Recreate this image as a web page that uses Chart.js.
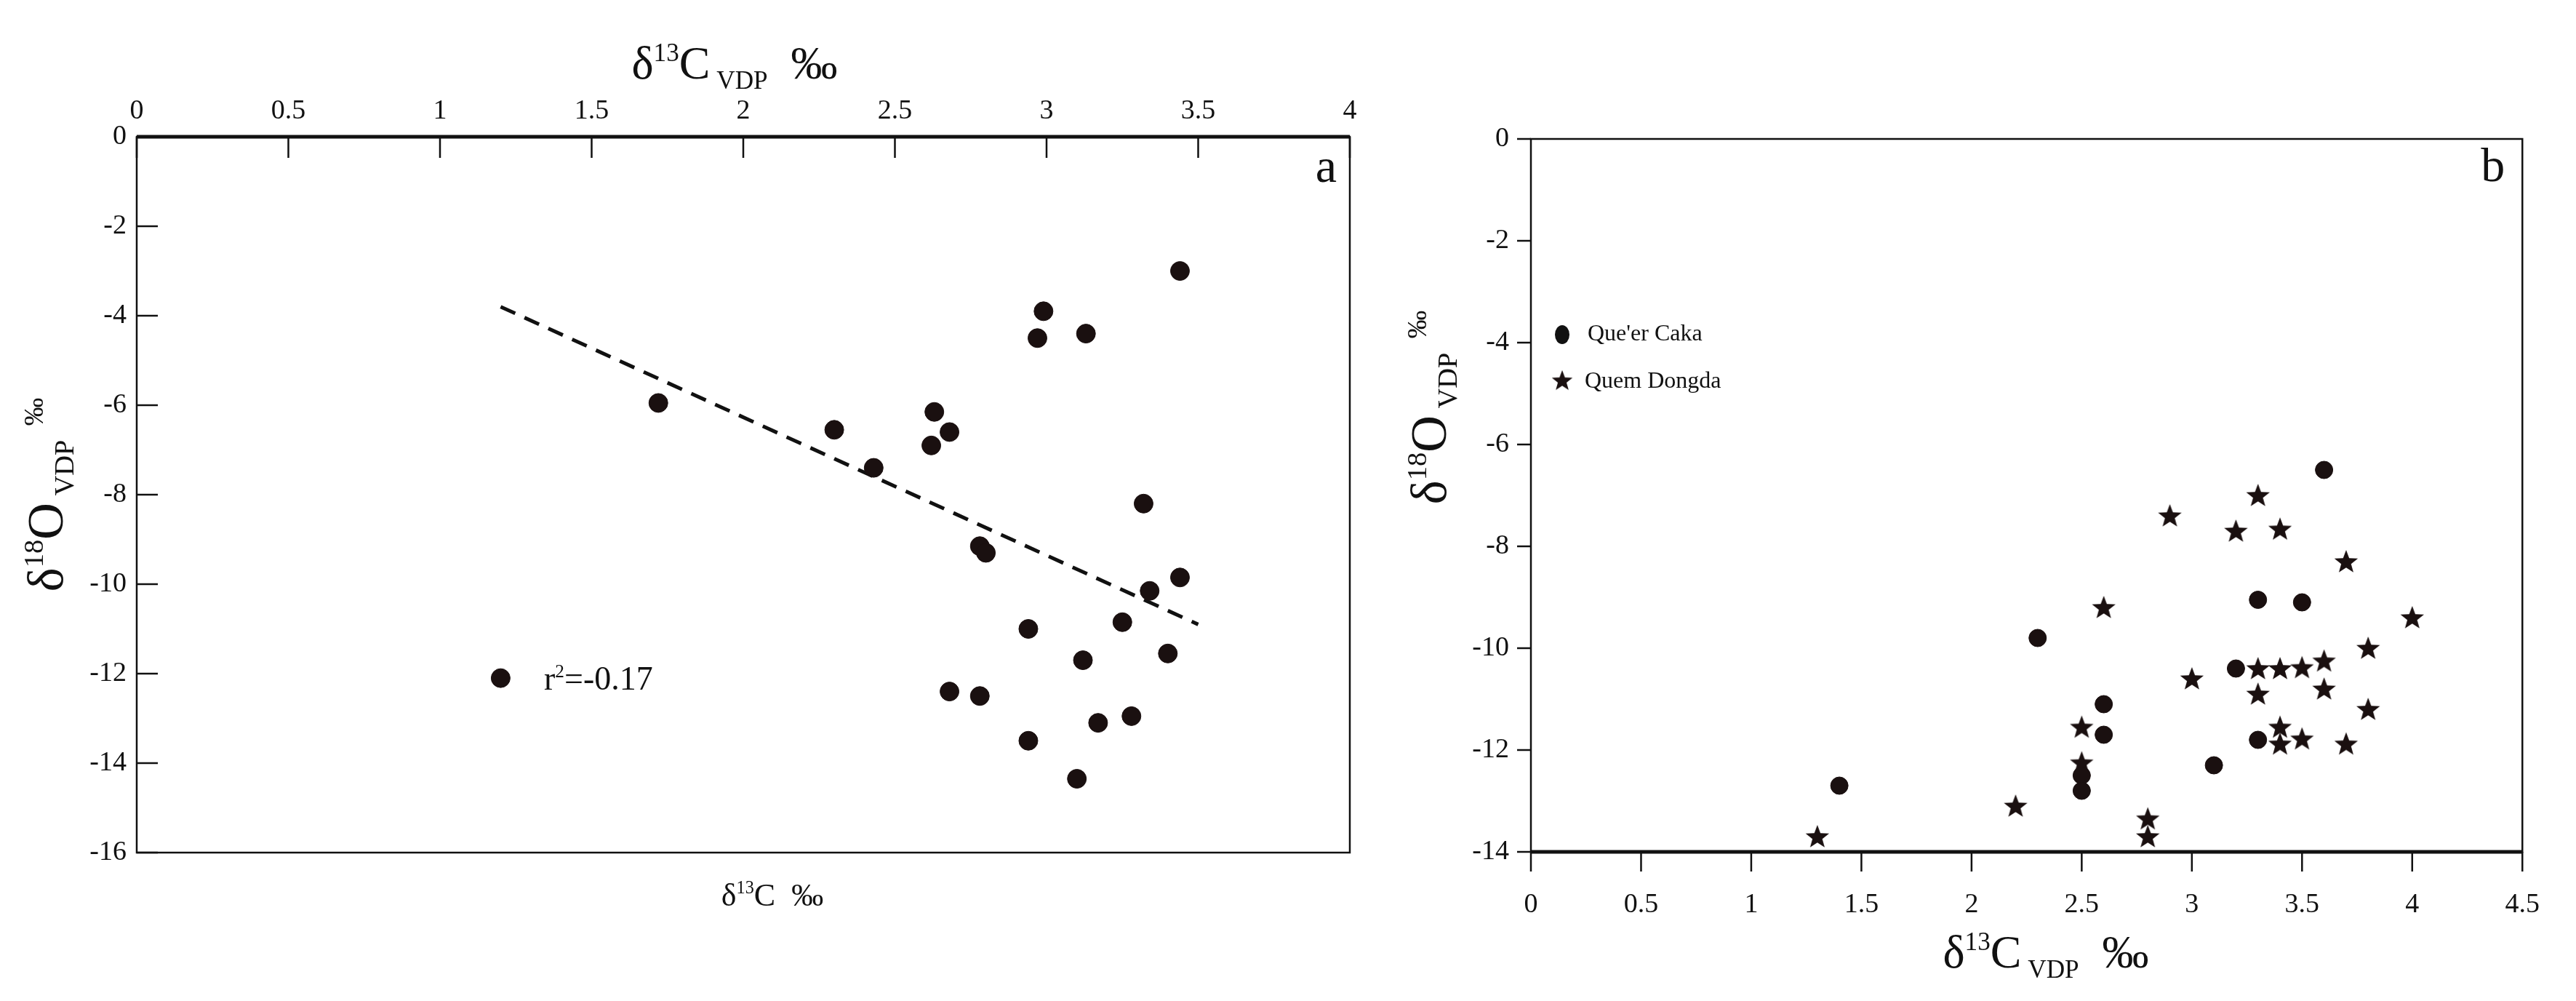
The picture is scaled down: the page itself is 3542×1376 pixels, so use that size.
<!DOCTYPE html>
<html><head><meta charset="utf-8">
<script src="https://cdn.jsdelivr.net/npm/chart.js@4/dist/chart.umd.min.js"></script>
<style>
html,body{margin:0;padding:0;background:#fff;width:3542px;height:1376px;overflow:hidden}
#wa{position:absolute;left:0;top:0;width:1900px;height:1376px}
#wb{position:absolute;left:1880px;top:0;width:1662px;height:1376px}
</style></head><body>
<div id="wa"><canvas id="ca"></canvas></div>
<div id="wb"><canvas id="cb"></canvas></div>
<script>
// Panel a data
const aX = [1.2,1.72,2.3,2.43,2.62,2.63,2.68,2.78,2.8,2.68,2.78,2.94,2.94,2.97,2.99,3.13,3.12,3.1,3.17,3.25,3.28,3.32,3.34,3.4,3.44,3.44];
const aY = [-12.1,-5.95,-6.55,-7.4,-6.9,-6.15,-6.6,-9.15,-9.3,-12.4,-12.5,-11.0,-13.5,-4.5,-3.9,-4.4,-11.7,-14.35,-13.1,-10.85,-12.95,-8.2,-10.15,-11.55,-9.85,-3.0];
const trendX = [1.2,3.5];
const trendY = [-3.8,-10.9];
const aXTicks = [0,0.5,1,1.5,2,2.5,3,3.5,4];
const aYTicks = [0,-2,-4,-6,-8,-10,-12,-14,-16];
// Panel b data
const qcX = [3.6,3.3,3.5,2.3,3.2,2.6,2.6,3.3,3.1,2.5,2.5,1.4];
const qcY = [-6.5,-9.05,-9.1,-9.8,-10.4,-11.1,-11.7,-11.8,-12.3,-12.5,-12.8,-12.7];
const qdX = [3.3,2.9,3.2,3.4,3.7,2.6,4.0,3.8,3.6,3.5,3.4,3.3,3.0,3.6,3.3,3.8,2.5,3.4,3.5,3.4,3.7,2.5,2.2,2.8,1.3,2.8];
const qdY = [-7.0,-7.4,-7.7,-7.66,-8.3,-9.2,-9.4,-10.0,-10.25,-10.38,-10.4,-10.4,-10.6,-10.8,-10.9,-11.2,-11.55,-11.55,-11.78,-11.88,-11.88,-12.25,-13.1,-13.35,-13.7,-13.7];
const bXTicks = [0,0.5,1,1.5,2,2.5,3,3.5,4,4.5];
const bYTicks = [0,-2,-4,-6,-8,-10,-12,-14];

const SERIF = "'Liberation Serif','DejaVu Serif',serif";
const pts = (xs,ys)=>xs.map((x,i)=>({x,y:ys[i]}));

function starImg(size){
  const c=document.createElement('canvas');c.width=size;c.height=size;
  const g=c.getContext('2d');g.fillStyle='#1a1010';g.beginPath();
  const cx=size/2,cy=size/2+1,R=size/2,r=R*0.42;
  for(let i=0;i<10;i++){const ang=-Math.PI/2+i*Math.PI/5;const rr=i%2?r:R;
    const px=cx+rr*Math.cos(ang),py=cy+rr*Math.sin(ang);i?g.lineTo(px,py):g.moveTo(px,py);}
  g.closePath();g.fill();return c;
}
const STAR = starImg(34);

function richText(ctx,parts,x,y,base,align){
  ctx.save();ctx.textBaseline='alphabetic';ctx.textAlign='left';
  let w=0;parts.forEach(p=>{ctx.font=(p[1]==='n'?base:base*0.55)+'px '+SERIF;w+=ctx.measureText(p[0]).width;});
  let cx = align==='center'? x-w/2 : x;
  parts.forEach(p=>{const s=p[1]==='n'?base:base*0.55;ctx.font=s+'px '+SERIF;
    const dy=p[1]==='sup'?-base*0.38:p[1]==='sub'?base*0.22:0;
    ctx.fillText(p[0],cx,y+dy);cx+=ctx.measureText(p[0]).width;});
  ctx.restore();
}

function axesPlugin(cfg){
  return {id:'ax',afterDraw(chart){
    const ctx=chart.ctx,a=chart.chartArea,xs=chart.scales.x,ys=chart.scales.y;
    ctx.save();ctx.strokeStyle='#111';
    ctx.lineWidth=2.5;ctx.strokeRect(a.left,a.top,a.right-a.left,a.bottom-a.top);
    ctx.lineWidth=5;ctx.beginPath();
    if(cfg.top){ctx.moveTo(a.left,a.top);ctx.lineTo(a.right,a.top);}
    else{ctx.moveTo(a.left,a.bottom);ctx.lineTo(a.right,a.bottom);}
    ctx.stroke();
    ctx.lineWidth=2.5;ctx.beginPath();
    xs.ticks.forEach(t=>{const px=xs.getPixelForValue(t.value);
      if(cfg.top){ctx.moveTo(px,a.top);ctx.lineTo(px,a.top+29);}
      else{ctx.moveTo(px,a.bottom);ctx.lineTo(px,a.bottom+27);}});
    ys.ticks.forEach(t=>{const py=ys.getPixelForValue(t.value);
      if(cfg.top){ctx.moveTo(a.left,py);ctx.lineTo(a.left+29,py);}
      else{ctx.moveTo(a.left,py);ctx.lineTo(a.left-19,py);}});
    ctx.stroke();ctx.fillStyle='#111';
    cfg.texts(ctx,a);
    ctx.restore();
  }};
}

function makeScales(xmin,xmax,xt,ymin,ymax,yt,top,ylw,xlh,xpad,ypad){
  return {
    x:{type:'linear',position:top?'top':'bottom',min:xmin,max:xmax,
      afterBuildTicks:s=>{s.ticks=xt.map(v=>({value:v}));},
      afterFit:s=>{s.height=xlh;},
      grid:{display:false,drawTicks:false},border:{display:false},
      ticks:{padding:xpad,color:'#111',font:{family:SERIF,size:38},maxRotation:0,callback:v=>String(v)}},
    y:{type:'linear',min:ymin,max:ymax,
      afterBuildTicks:s=>{s.ticks=yt.map(v=>({value:v}));},
      afterFit:s=>{s.width=ylw;},
      grid:{display:false,drawTicks:false},border:{display:false},
      ticks:{padding:ypad,color:'#111',font:{family:SERIF,size:38},callback:v=>String(v)}}
  };
}

new Chart(document.getElementById('ca'),{
  type:'scatter',
  data:{datasets:[
    {data:pts(aX,aY),pointRadius:13,pointHoverRadius:13,backgroundColor:'#1a1010',borderColor:'#1a1010'},
    {type:'line',data:pts(trendX,trendY),borderColor:'#111',borderWidth:5,borderDash:[22,14],pointRadius:0,fill:false}
  ]},
  options:{responsive:true,maintainAspectRatio:false,animation:false,
    layout:{padding:{left:0,right:44,top:0,bottom:204}},
    plugins:{legend:{display:false},tooltip:{enabled:false}},
    scales:makeScales(0,4,aXTicks,-16,0,aYTicks,true,188,188,12,14)},
  plugins:[axesPlugin({top:true,texts:(ctx,a)=>{
    richText(ctx,[['δ','n'],['13','sup'],['C','n'],[' VDP','sub'],['  ‰','n']],1010,108,64,'center');
    richText(ctx,[['δ','n'],['13','sup'],['C  ‰','n']],1062,1245,44,'center');
    richText(ctx,[['r','n'],['2','sup'],['=-0.17','n']],748,948,46,'left');
    ctx.font='66px '+SERIF;ctx.textAlign='right';ctx.fillText('a',a.right-18,a.top+62);
    ctx.save();ctx.translate(86,680);ctx.rotate(-Math.PI/2);
    richText(ctx,[['δ','n'],['18','sup'],['O','n'],[' VDP','sub'],['  ‰','sup']],0,0,70,'center');
    ctx.restore();
  }})]
});

new Chart(document.getElementById('cb'),{
  type:'scatter',
  data:{datasets:[
    {label:"Que'er Caka",data:pts(qcX,qcY),pointRadius:12,pointHoverRadius:12,backgroundColor:'#1a1010',borderColor:'#1a1010'},
    {label:'Quem Dongda',data:pts(qdX,qdY),pointStyle:STAR,pointRadius:17,backgroundColor:'#1a1010'}
  ]},
  options:{responsive:true,maintainAspectRatio:false,animation:false,
    layout:{padding:{left:0,right:65,top:191,bottom:0}},
    plugins:{legend:{display:false},tooltip:{enabled:false}},
    scales:makeScales(0,4.5,bXTicks,-14,0,bYTicks,false,225,205,50,30)},
  plugins:[axesPlugin({top:false,texts:(ctx,a)=>{
    richText(ctx,[['δ','n'],['13','sup'],['C','n'],[' VDP','sub'],['  ‰','n']],933,1330,64,'center');
    ctx.font='66px '+SERIF;ctx.textAlign='right';ctx.fillText('b',a.right-24,a.top+58);
    ctx.beginPath();ctx.ellipse(268,460,10,13,0,0,Math.PI*2);ctx.fill();
    ctx.drawImage(STAR,268-15,525-17,30,30);
    ctx.font='32px '+SERIF;ctx.textAlign='left';ctx.textBaseline='middle';
    ctx.fillText("Que'er Caka",303,460);ctx.fillText('Quem Dongda',299,525);
    ctx.textBaseline='alphabetic';
    ctx.save();ctx.translate(108,560);ctx.rotate(-Math.PI/2);
    richText(ctx,[['δ','n'],['18','sup'],['O','n'],[' VDP','sub'],['  ‰','sup']],0,0,70,'center');
    ctx.restore();
  }})]
});
</script></body></html>
